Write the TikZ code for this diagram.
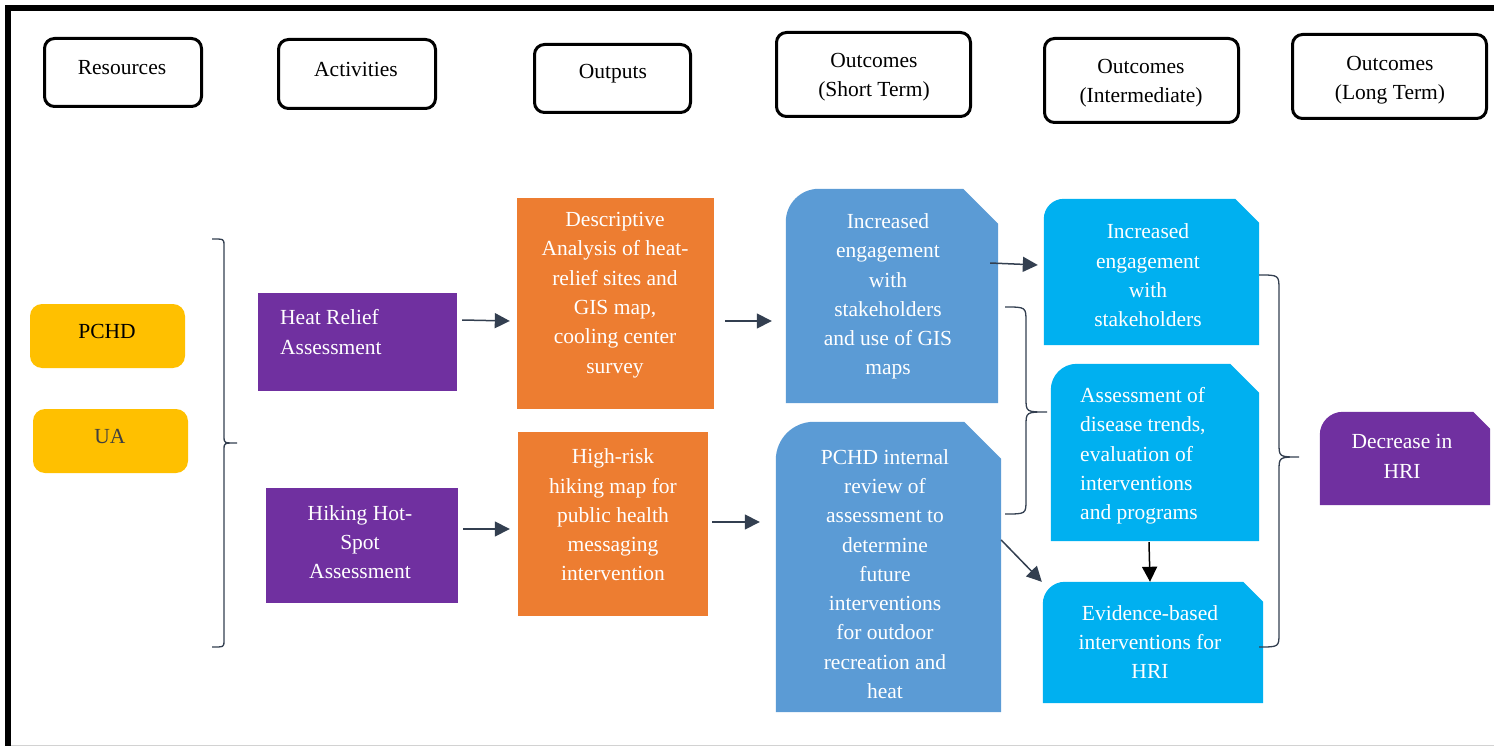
\documentclass[tikz,border=0pt]{standalone}
\usepackage{fontspec}
\setmainfont{Liberation Serif}
\usetikzlibrary{arrows.meta}
\definecolor{cyel}{HTML}{FFC000}
\definecolor{cpur}{HTML}{7030A0}
\definecolor{cora}{HTML}{ED7D31}
\definecolor{cblu}{HTML}{5B9BD5}
\definecolor{ccya}{HTML}{00B0F0}
\definecolor{carrow}{HTML}{333F50}
\definecolor{cgrey}{HTML}{404040}
\newcommand\snipfill[4]{\fill[#2] (#1.south west) -- ([yshift=-#3]#1.north west) arc[start angle=180, end angle=90, radius=#3] -- ([xshift=-#4]#1.north east) -- ([yshift=-#4]#1.north east) -- (#1.south east) -- cycle;}
\begin{document}
\begin{tikzpicture}[x=1pt,y=-1pt,
  every node/.style={font=\fontsize{21.5}{29.3}\selectfont},
  hdr/.style={draw=black, line width=3pt, rounded corners=10pt, inner sep=0pt},
  txt/.style={inner sep=0pt, align=center},
  wtxt/.style={txt, text=white},
  box/.style={inner sep=0pt, draw=none},
  arr/.style={draw=carrow, line width=1.5pt, -{Triangle[length=15pt,width=15pt]}},
  brc/.style={draw=carrow, line width=1.3pt},
]
\useasboundingbox (0,0) rectangle (1494,746);
% frame
\draw[line width=6pt] (8,746) -- (8,8) -- (1494,8);
\draw[gray!35, line width=1pt] (11,745) -- (1494,745);

% headers
\node[hdr, minimum width=157pt, minimum height=68pt] (hres) at (123,72.5) {};
\node[txt] (thres) at (122,68) {Resources};
\node[hdr, minimum width=157pt, minimum height=69pt] (hact) at (357,74) {};
\node[txt] (thact) at (356,69) {Activities};
\node[hdr, minimum width=156pt, minimum height=68pt] (hout) at (612.5,78.5) {};
\node[txt] (thout) at (613,74) {Outputs};
\node[hdr, minimum width=194pt, minimum height=84pt] (hst) at (873.5,74.5) {};
\node[txt] (thst) at (874,77) {Outcomes\\(Short Term)};
\node[hdr, minimum width=194pt, minimum height=84pt] (hint) at (1141.5,80.5) {};
\node[txt] (thint) at (1141,83) {Outcomes\\(Intermediate)};
\node[hdr, minimum width=194pt, minimum height=84pt] (hlt) at (1389.5,76.5) {};
\node[txt] (thlt) at (1390,80) {Outcomes\\(Long Term)};

% resources
\node[box, fill=cyel, rounded corners=12pt, minimum width=155pt, minimum height=64pt] (pchd) at (107.5,336) {};
\node[txt] (tpchd) at (107,331.5) {PCHD};
\node[box, fill=cyel, rounded corners=12pt, minimum width=155pt, minimum height=64pt] (ua) at (110.5,441) {};
\node[txt, text=cgrey] (tua) at (110,436.5) {UA};

% left brace
\draw[brc] (212,239) .. controls (224,239) .. (224,245) -- (224,437) .. controls (224,443) .. (237,443) .. controls (224,443) .. (224,449) -- (224,641) .. controls (224,647) .. (212,647);

% activities
\node[box, fill=cpur, minimum width=199pt, minimum height=98pt] (hr) at (357.5,342) {};
\node[wtxt, align=left, anchor=west] (thr) at (280,332) {Heat Relief\\Assessment};
\node[box, fill=cpur, minimum width=192pt, minimum height=115pt] (hk) at (362,545.5) {};
\node[wtxt] (thk) at (360,542) {Hiking Hot-\\Spot\\Assessment};

% outputs
\node[box, fill=cora, minimum width=197pt, minimum height=211pt] (desc) at (615.5,303.5) {};
\node[wtxt] (tdesc) at (615,295) {Descriptive\\Analysis of heat-\\relief sites and\\GIS map,\\cooling center\\survey};
\node[box, fill=cora, minimum width=190pt, minimum height=184pt] (hrm) at (613,524) {};
\node[wtxt] (thrm) at (613,515) {High-risk\\hiking map for\\public health\\messaging\\intervention};

% short term
\node[box, minimum width=212pt, minimum height=214pt] (st1) at (892,296) {};
\snipfill{st1}{cblu}{33pt}{35pt}
\node[wtxt] (tst1) at (888,296.5) {Increased\\engagement\\with\\stakeholders\\and use of GIS\\maps};
\node[box, minimum width=225pt, minimum height=290pt] (st2) at (888.5,567) {};
\snipfill{st2}{cblu}{38pt}{37pt}
\node[wtxt] (tst2) at (885,574) {PCHD internal\\review of\\assessment to\\determine\\future\\interventions\\for outdoor\\recreation and\\heat};

% intermediate
\node[box, minimum width=215pt, minimum height=146pt] (i1) at (1151.5,272) {};
\snipfill{i1}{ccya}{20pt}{24pt}
\node[wtxt] (ti1) at (1148,275.5) {Increased\\engagement\\with\\stakeholders};
\node[box, minimum width=208pt, minimum height=177pt] (i2) at (1155,452.5) {};
\snipfill{i2}{ccya}{26pt}{29pt}
\node[wtxt, align=left, anchor=west] (ti2) at (1080,456) {Assessment of\\disease trends,\\evaluation of\\interventions\\and programs};
\node[box, minimum width=220pt, minimum height=121pt] (i3) at (1153,642.5) {};
\snipfill{i3}{ccya}{22pt}{20pt}
\node[wtxt] (ti3) at (1150,642) {Evidence-based\\interventions for\\HRI};

% long term
\node[box, minimum width=170pt, minimum height=93pt] (lt) at (1405,458.5) {};
\snipfill{lt}{cpur}{23pt}{17pt}
\node[wtxt] (tlt) at (1402,456.5) {Decrease in\\HRI};

% braces
\draw[brc] (1005,307) .. controls (1026,307) .. (1026,322) -- (1026,398) .. controls (1026,412) .. (1047,412) .. controls (1026,412) .. (1026,426) -- (1026,500) .. controls (1026,514) .. (1005,514);
\draw[brc] (1259,275) .. controls (1279,275) .. (1279,290) -- (1279,443) .. controls (1279,457) .. (1299,457) .. controls (1279,457) .. (1279,471) -- (1279,633) .. controls (1279,647) .. (1259,647);

% arrows
\draw[arr] ([xshift=5pt,yshift=22pt]hr.east) -- ([xshift=-7pt,yshift=-17.5pt]desc.west);
\draw[arr] ([xshift=11pt,yshift=-17.5pt]desc.east) -- ([xshift=-14pt,yshift=-25pt]st1.west);
\draw[arr] ([xshift=5pt,yshift=16.5pt]hk.east) -- ([xshift=-8pt,yshift=-5pt]hrm.west);
\draw[arr] ([xshift=4pt,yshift=2pt]hrm.east) -- ([xshift=-16pt,yshift=45pt]st2.west);
\draw[arr] ([xshift=-8pt,yshift=33pt]st1.east) -- ([xshift=-6pt,yshift=7pt]i1.west);
\draw[arr] ([yshift=27pt]st2.east) -- ([xshift=-1pt]i3.north west);
\draw[arr, draw=black] ([xshift=-6pt,yshift=-1pt]i2.south) -- ([xshift=-3pt]i3.north);
\end{tikzpicture}
\end{document}
